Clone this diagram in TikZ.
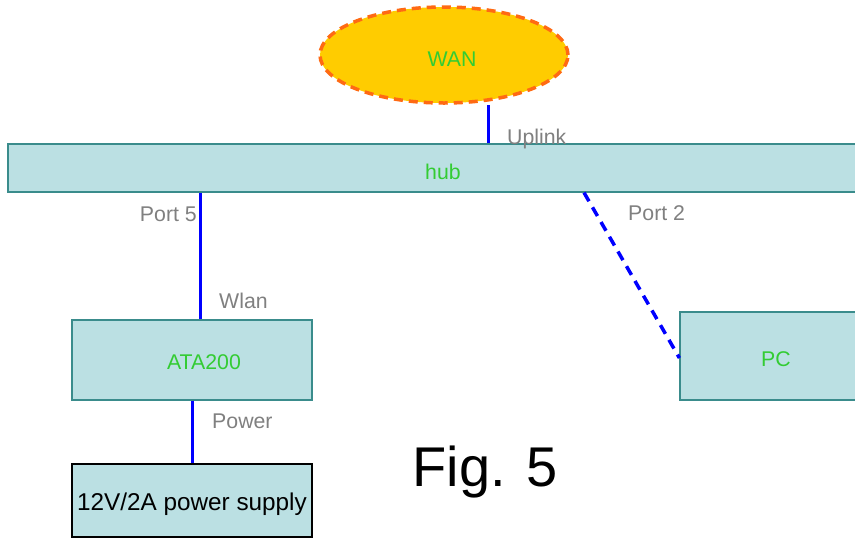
\documentclass[tikz,border=0pt]{standalone}
\usepackage{fontspec}
\setmainfont{Liberation Sans}
\usetikzlibrary{shapes.geometric,calc}
\definecolor{boxfill}{HTML}{BBE0E3}
\definecolor{boxline}{HTML}{3A8C8C}
\definecolor{lbl}{HTML}{33CC33}
\definecolor{portgray}{HTML}{808080}
\definecolor{wanfill}{HTML}{FFCC00}
\definecolor{wanline}{HTML}{FF6A13}
\tikzset{
  x=1pt, y=-1pt,
  devbox/.style={draw=boxline, line width=1.2pt, fill=boxfill, rectangle, inner sep=0pt},
  psubox/.style={draw=black, line width=1.4pt, fill=boxfill, rectangle, inner sep=0pt},
  boxtext/.style={inner sep=0pt, text=lbl, font=\fontsize{21.3}{25}\selectfont},
  portlbl/.style={inner sep=0pt, text=portgray, font=\fontsize{21.3}{25}\selectfont},
  link/.style={draw=blue, line width=3pt},
  dlink/.style={draw=blue, line width=3.5pt, dash pattern=on 10pt off 7pt},
}
\begin{document}
\begin{tikzpicture}
\clip (0,0) rectangle (855,539);
\fill[white] (0,0) rectangle (855,539);
\node[ellipse, draw=wanline, line width=3.5pt, dash pattern=on 9pt off 6pt, fill=wanfill, minimum width=248pt, minimum height=96pt, inner sep=0pt] (wan) at (444,55) {};
\node[boxtext] (wantext) at (452,59) {WAN};
\node[devbox, minimum width=870pt, minimum height=48pt] (hub) at (443,168) {};
\node[boxtext] (hubtext) at (443,172) {hub};
\node[devbox, minimum width=240pt, minimum height=80pt] (ata) at (192,360) {};
\node[boxtext] (atatext) at (204,362) {ATA200};
\node[devbox, minimum width=192pt, minimum height=88pt] (pc) at (776,356) {};
\node[boxtext] (pctext) at (776,359) {PC};
\node[psubox, minimum width=240pt, minimum height=73pt, text=black, font=\fontsize{24.3}{28}\selectfont, text height=19.2pt, text depth=0pt] (psu) at (192,500.5) {12V/2A power supply};
\node[portlbl, anchor=west] (uplink) at (507,139) {Uplink};
\node[portlbl, anchor=east] (port5) at (197,214) {Port 5};
\node[portlbl, anchor=west] (wlan) at (219,301) {Wlan};
\node[portlbl, anchor=west] (power) at (212,421) {Power};
\node[portlbl, anchor=west] (port2) at (628,213) {Port 2};
\node[inner sep=0pt, font=\fontsize{56}{64}\selectfont] (fig) at (485,472) {Fig. 5};
\draw[link] (hub.north -| 488,0) -- (wan.south -| 488,0);
\draw[link] (hub.south -| 200,0) -- (ata.north -| 200,0);
\draw[link] (ata.south) -- (psu.north);
\draw[dlink] (hub.south -| 584,0) -- ($(pc.west)+(0,2)$);
\end{tikzpicture}
\end{document}
